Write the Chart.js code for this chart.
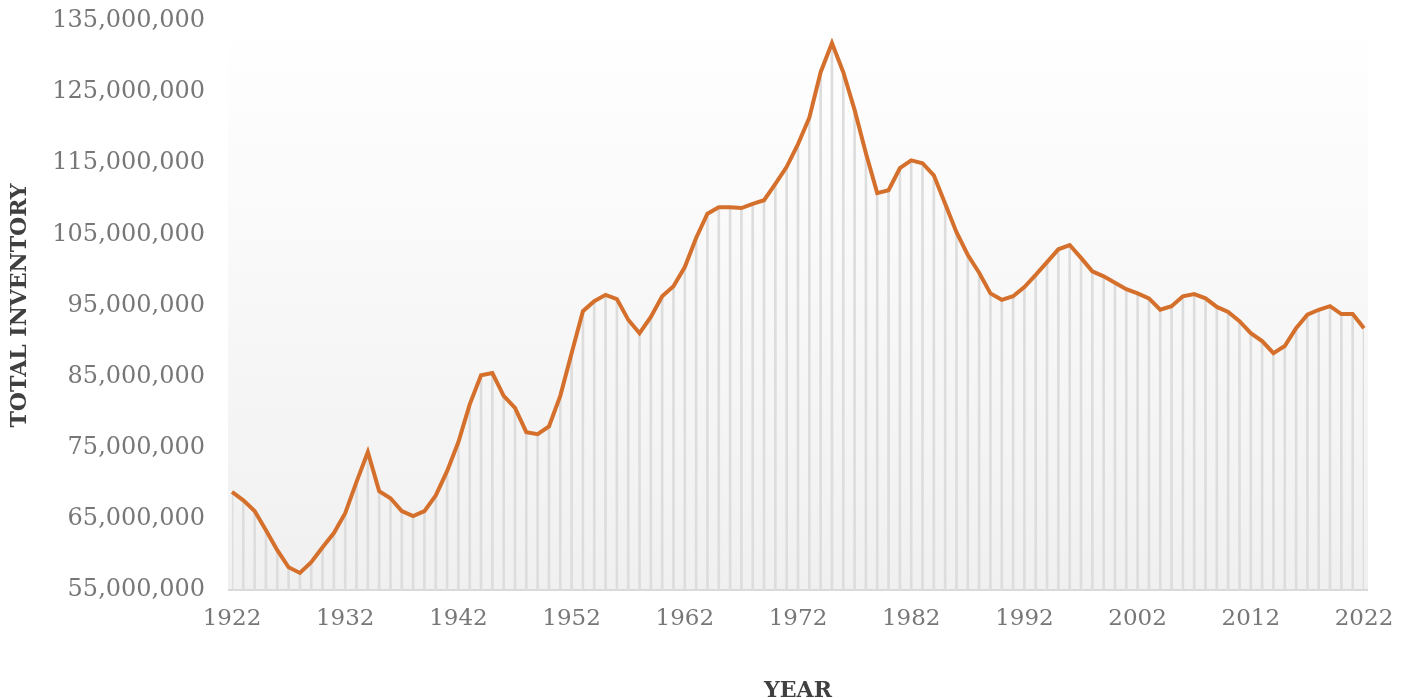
<!DOCTYPE html>
<html>
<head>
<meta charset="utf-8">
<script src="https://cdn.jsdelivr.net/npm/chart.js@4/dist/chart.umd.min.js"></script>
<style>
  html, body { margin: 0; padding: 0; background: #fff; }
  #wrap { width: 1409px; height: 698px; }
</style>
</head>
<body>
<div id="wrap"><canvas id="myChart" width="1409" height="698"></canvas></div>
<script>
let years = [
  1922, 1923, 1924, 1925, 1926, 1927, 1928, 1929, 1930, 1931,
  1932, 1933, 1934, 1935, 1936, 1937, 1938, 1939, 1940, 1941,
  1942, 1943, 1944, 1945, 1946, 1947, 1948, 1949, 1950, 1951,
  1952, 1953, 1954, 1955, 1956, 1957, 1958, 1959, 1960, 1961,
  1962, 1963, 1964, 1965, 1966, 1967, 1968, 1969, 1970, 1971,
  1972, 1973, 1974, 1975, 1976, 1977, 1978, 1979, 1980, 1981,
  1982, 1983, 1984, 1985, 1986, 1987, 1988, 1989, 1990, 1991,
  1992, 1993, 1994, 1995, 1996, 1997, 1998, 1999, 2000, 2001,
  2002, 2003, 2004, 2005, 2006, 2007, 2008, 2009, 2010, 2011,
  2012, 2013, 2014, 2015, 2016, 2017, 2018, 2019, 2020, 2021,
  2022
];

let inventory = [
  68800000, 67600000, 66100000, 63400000, 60600000, 58200000, 57400000, 58900000, 61000000, 63000000,
  65800000, 70200000, 74400000, 68900000, 67900000, 66100000, 65400000, 66100000, 68300000, 71700000,
  75800000, 81100000, 85200000, 85500000, 82300000, 80600000, 77200000, 76900000, 78000000, 82300000,
  88300000, 94200000, 95600000, 96500000, 95900000, 93000000, 91100000, 93400000, 96300000, 97700000,
  100400000, 104500000, 107900000, 108800000, 108800000, 108700000, 109300000, 109800000, 112100000, 114500000,
  117700000, 121400000, 127800000, 131900000, 127800000, 122500000, 116400000, 110800000, 111200000, 114300000,
  115400000, 115000000, 113300000, 109300000, 105300000, 102100000, 99600000, 96700000, 95800000, 96300000,
  97600000, 99300000, 101100000, 102900000, 103500000, 101700000, 99800000, 99100000, 98200000, 97300000,
  96700000, 96000000, 94400000, 94900000, 96300000, 96600000, 96000000, 94800000, 94100000, 92800000,
  91100000, 90000000, 88300000, 89300000, 91800000, 93700000, 94400000, 94900000, 93800000, 93800000,
  91800000
];

let yMin = 55000000;
let yMax = 135000000;
let yStep = 10000000;

// plot background: white fading to light grey, plus the base line
let plotBackground = {
  id: 'plotBackground',
  beforeDraw(chart) {
    let a = chart.chartArea;
    let c = chart.ctx;
    let g = c.createLinearGradient(0, a.top, 0, a.bottom);
    g.addColorStop(0, '#ffffff');
    g.addColorStop(1, '#f0f0f0');
    c.save();
    c.fillStyle = g;
    c.fillRect(a.left - 4, a.top, a.right - a.left + 8, a.bottom - a.top);
    c.strokeStyle = '#d9d9d9';
    c.lineWidth = 2;
    c.beginPath();
    c.moveTo(a.left - 4, a.bottom);
    c.lineTo(a.right + 4, a.bottom);
    c.stroke();
    c.restore();
  }
};

let ctx = document.getElementById('myChart').getContext('2d');
let myChart = new Chart(ctx, {
  type: 'line',
  data: {
    labels: years,
    datasets: [{
      type: 'line',
      data: inventory,
      borderColor: '#d5702c',
      borderWidth: 4,
      pointRadius: 0,
      tension: 0,
      clip: 8,
      order: 0
    }, {
      // drop lines under each point
      type: 'bar',
      data: inventory,
      backgroundColor: '#dddddd',
      barThickness: 2,
      order: 1
    }]
  },
  options: {
    responsive: false,
    animation: false,
    layout: { autoPadding: false, padding: { top: 21, right: 45, bottom: 0, left: 0 } },
    plugins: {
      legend: { display: false },
      tooltip: { enabled: false }
    },
    scales: {
      x: {
        type: 'category',
        offset: false,
        grid: { display: false, drawTicks: false },
        border: { display: false },
        ticks: {
          autoSkip: false,
          maxRotation: 0,
          padding: 15,
          color: '#777777',
          font: { family: 'DejaVu Serif', size: 23 },
          callback: function (value, index) {
            let y = years[index];
            return (y - 1922) % 10 === 0 ? String(y) : '';
          }
        },
        title: {
          display: true,
          text: 'YEAR',
          color: '#404040',
          font: { family: 'DejaVu Serif', size: 22, weight: 'bold' },
          padding: { top: 0, bottom: -6 }
        },
        afterFit: function (scale) {
          scale.height = 108;
          scale.paddingLeft = 0;
          scale.paddingRight = 0;
        }
      },
      y: {
        min: yMin,
        max: yMax,
        grid: { display: false, drawTicks: false },
        border: { display: false },
        ticks: {
          stepSize: yStep,
          padding: 27,
          color: '#777777',
          font: { family: 'DejaVu Serif', size: 24 },
          callback: function (value) { return value.toLocaleString('en-US'); }
        },
        title: {
          display: true,
          text: 'TOTAL INVENTORY',
          color: '#404040',
          font: { family: 'DejaVu Serif', size: 22, weight: 'bold' },
          padding: { top: 7, bottom: 0 }
        },
        afterFit: function (scale) {
          scale.width = 232;
          scale.paddingTop = 0;
          scale.paddingBottom = 0;
        }
      }
    }
  },
  plugins: [plotBackground]
});
</script>
</body>
</html>
